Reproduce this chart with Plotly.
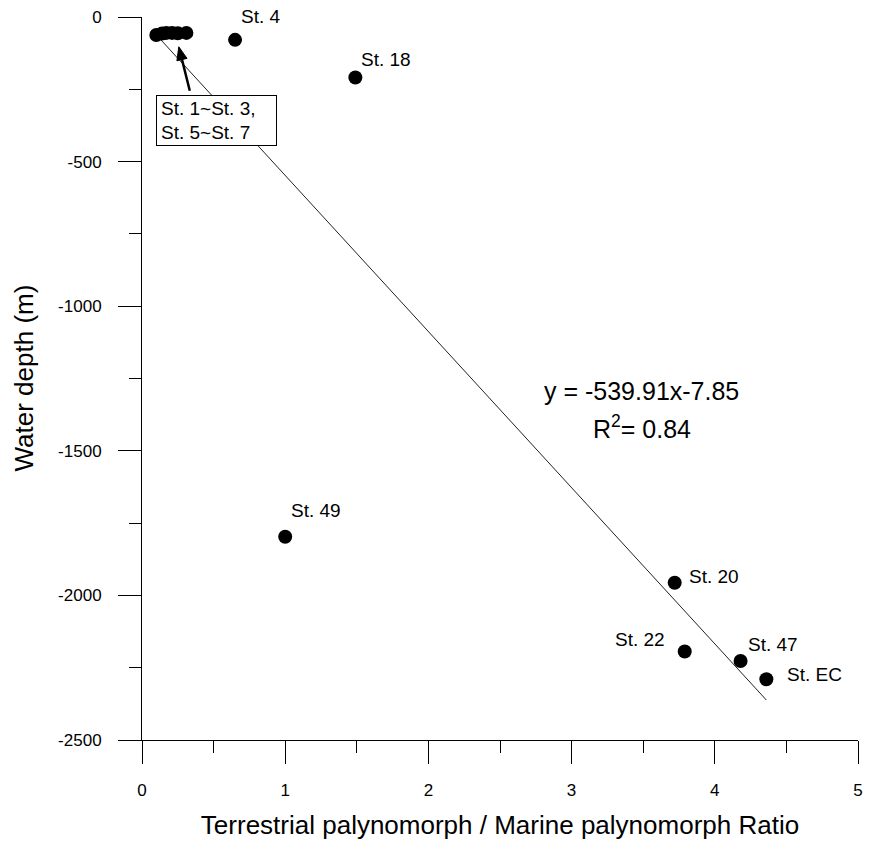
import plotly.graph_objects as go

# Station values: T/M palynomorph ratio vs. water depth
stations = ["St. 1", "St. 2", "St. 3", "St. 5", "St. 6", "St. 7",
            "St. 4", "St. 18", "St. 49", "St. 20", "St. 22", "St. 47", "St. EC"]
ratio = [0.10, 0.14, 0.17, 0.21, 0.25, 0.31,
         0.65, 1.49, 1.00, 3.72, 3.79, 4.18, 4.36]
depth = [-62, -57, -55, -55, -56, -55,
         -79, -209, -1797, -1956, -2194, -2227, -2290]

# Linear fit reported on the chart
slope = -539.91
intercept = -7.85
r_squared = 0.84

# Tick labels (plain hyphen minus signs)
x_tick_vals = [0, 1, 2, 3, 4, 5]
x_tick_text = ["0", "1", "2", "3", "4", "5"]
y_tick_vals = [0, -500, -1000, -1500, -2000, -2500]
y_tick_text = ["0", "-500", "-1000", "-1500", "-2000", "-2500"]

# Stations that get their own label, with a pixel offset for the label
labelled = {
    "St. 4": (26, 23),
    "St. 18": (31, 18),
    "St. 49": (31, 26),
    "St. 20": (39, 6),
    "St. 22": (-45, 12),
    "St. 47": (32, 17),
    "St. EC": (48, 5),
}

FONT = "Liberation Sans, Arial, sans-serif"

fig = go.Figure()

x_fit = [min(ratio), max(ratio)]
y_fit = [slope * v + intercept for v in x_fit]
fig.add_trace(go.Scatter(
    x=x_fit, y=y_fit, mode="lines",
    line=dict(color="#222222", width=1),
    hoverinfo="skip", showlegend=False, cliponaxis=False,
))

fig.add_trace(go.Scatter(
    x=ratio, y=depth, mode="markers", text=stations,
    marker=dict(color="black", size=14),
    showlegend=False, cliponaxis=False,
))

annotations = []
for name, x, y in zip(stations, ratio, depth):
    if name in labelled:
        dx, dy = labelled[name]
        annotations.append(dict(
            x=x, y=y, xref="x", yref="y", text=name, showarrow=False,
            xshift=dx, yshift=dy, font=dict(size=19, color="black", family=FONT),
        ))

# Grouped label for the shallow stations
annotations.append(dict(
    x=0.519, y=-357, xref="x", yref="y",
    text="St. 1~St. 3,<br>St. 5~St. 7", showarrow=False, align="left",
    width=111, height=41,
    bordercolor="black", borderwidth=1, borderpad=4, bgcolor="white",
    font=dict(size=19, color="black", family=FONT),
))

annotations.append(dict(
    x=3.49, y=-1292, xref="x", yref="y",
    text=f"y = {slope}x{intercept}", showarrow=False,
    font=dict(size=25, color="black", family=FONT),
))
annotations.append(dict(
    x=3.489, y=-1417, xref="x", yref="y",
    text=f"R<sup>2</sup>= {r_squared}", showarrow=False,
    font=dict(size=25, color="black", family=FONT),
))

# Vertical axis title, placed close to the page edge
annotations.append(dict(
    x=0, y=0.5, xref="paper", yref="paper", xshift=-119,
    xanchor="center", yanchor="middle",
    text="Water depth (m)", textangle=-90, showarrow=False,
    font=dict(size=26, color="black", family=FONT),
))

# Arrow from the grouped label into the shallow cluster (pixel-sized around its tip)
tip_x, tip_y = 0.257, -103
fig.add_shape(
    type="line", xref="x", yref="y", xsizemode="pixel", ysizemode="pixel",
    xanchor=tip_x, yanchor=tip_y, x0=3, y0=-12, x1=11, y1=-44,
    line=dict(color="black", width=2.5),
)
fig.add_shape(
    type="path", xref="x", yref="y", xsizemode="pixel", ysizemode="pixel",
    xanchor=tip_x, yanchor=tip_y, path="M 0,0 L 8.2,-11.6 L -1.9,-14.0 Z",
    fillcolor="black", line=dict(color="black", width=1),
)

axis_common = dict(
    showline=True, linecolor="black", linewidth=1,
    showgrid=False, zeroline=False,
    ticks="outside", ticklen=23, tickwidth=1, tickcolor="black",
    tickfont=dict(size=17, color="black", family=FONT),
)

fig.update_layout(
    width=870, height=843,
    margin=dict(l=142, r=7, t=17, b=103),
    paper_bgcolor="white", plot_bgcolor="white",
    font=dict(family=FONT, color="black"),
    xaxis=dict(
        range=[0, 5], tickmode="array", tickvals=x_tick_vals, ticktext=x_tick_text,
        minor=dict(dtick=0.5, tick0=0, ticklen=12, tickcolor="black", ticks="outside"),
        ticklabelstandoff=12,
        title=dict(text="Terrestrial palynomorph / Marine palynomorph Ratio",
                   font=dict(size=26, color="black", family=FONT), standoff=16),
        **axis_common,
    ),
    yaxis=dict(
        range=[-2500, 0], tickmode="array", tickvals=y_tick_vals, ticktext=y_tick_text,
        minor=dict(dtick=250, tick0=0, ticklen=12, tickcolor="black", ticks="outside"),
        ticklabelstandoff=13,
        **axis_common,
    ),
    annotations=annotations,
)

fig.write_html("out.html")
